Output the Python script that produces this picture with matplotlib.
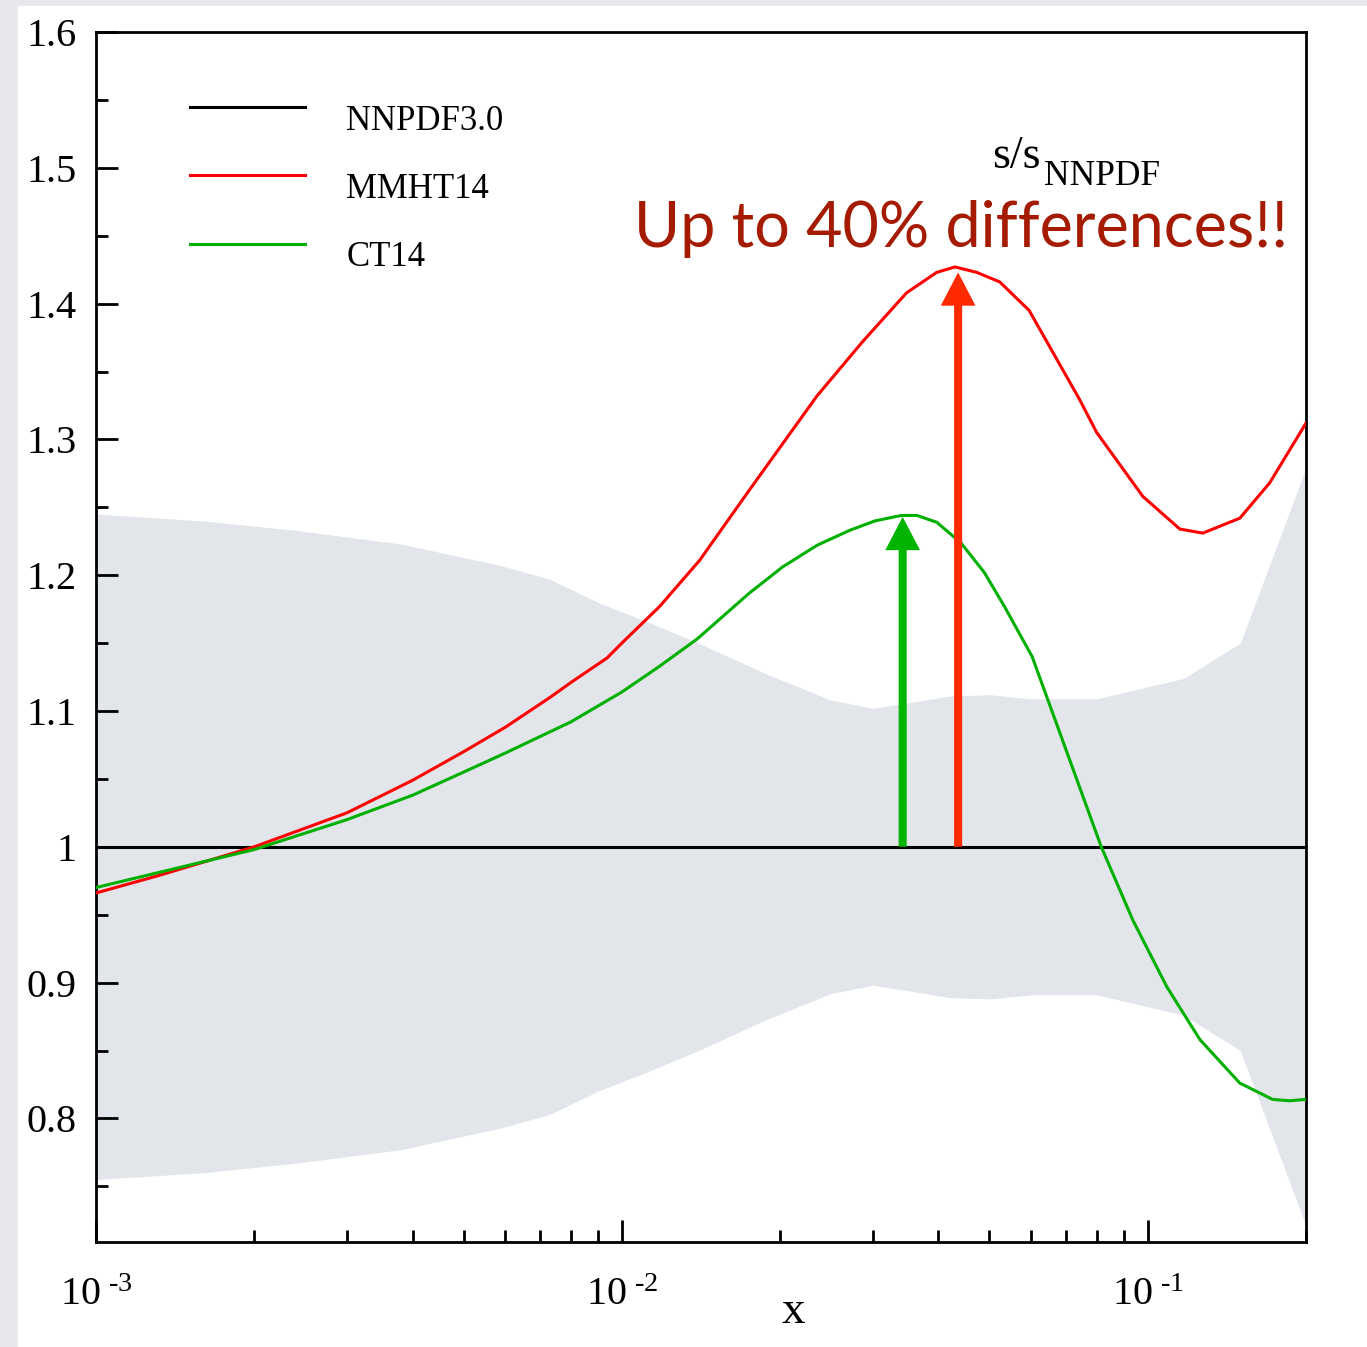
import matplotlib
matplotlib.use("Agg")
import matplotlib.pyplot as plt
from matplotlib.patches import Rectangle
from matplotlib.legend_handler import HandlerLine2D
from matplotlib.ticker import FixedLocator, FixedFormatter, LogLocator, NullFormatter
import numpy as np

# NNPDF3.0 uncertainty band (half width around 1)
band_x = [0.001, 0.0016, 0.0024, 0.0038, 0.0059, 0.0073, 0.009, 0.0113, 0.014, 0.0189,
          0.025, 0.03, 0.035, 0.042, 0.05, 0.06, 0.08, 0.117, 0.15, 0.2]
band_hw = [0.245, 0.240, 0.233, 0.223, 0.207, 0.197, 0.180, 0.165, 0.150, 0.127,
           0.108, 0.102, 0.106, 0.111, 0.112, 0.109, 0.109, 0.124, 0.150, 0.279]

mmht_x = [0.001, 0.00132, 0.002, 0.003, 0.004, 0.005, 0.006, 0.0073, 0.008, 0.00937,
          0.01, 0.0118, 0.01406, 0.0175, 0.0235, 0.0287, 0.0348, 0.0397, 0.043, 0.0473,
          0.0523, 0.0595, 0.0743, 0.08, 0.0979, 0.1151, 0.1273, 0.1497, 0.1706, 0.2]
mmht_y = [0.966, 0.979, 1.000, 1.025, 1.049, 1.070, 1.088, 1.110, 1.121, 1.139,
          1.150, 1.177, 1.211, 1.263, 1.332, 1.372, 1.408, 1.423, 1.427, 1.423,
          1.416, 1.395, 1.329, 1.305, 1.258, 1.234, 1.231, 1.242, 1.268, 1.312]

ct14_x = [0.001, 0.00145, 0.002, 0.003, 0.004, 0.005, 0.006, 0.008, 0.01,
          0.0118, 0.0139, 0.0175, 0.0202, 0.0235, 0.0271, 0.0303, 0.034, 0.0364, 0.0397, 0.0441,
          0.0489, 0.0534, 0.0603, 0.0816, 0.0937, 0.1087, 0.1257, 0.1497, 0.1728, 0.186, 0.2]
ct14_y = [0.970, 0.985, 0.998, 1.020, 1.038, 1.055, 1.069, 1.092, 1.114,
          1.133, 1.153, 1.187, 1.206, 1.222, 1.233, 1.240, 1.244, 1.244, 1.239, 1.224,
          1.202, 1.177, 1.140, 1.000, 0.946, 0.897, 0.858, 0.826, 0.814, 0.813, 0.814]

# arrows: x position, tip value
arrow_green = (0.0342, 1.243)
arrow_red = (0.0436, 1.423)

ytick_vals = [0.8, 0.9, 1.0, 1.1, 1.2, 1.3, 1.4, 1.5, 1.6]
ytick_labels = ["0.8", "0.9", "1", "1.1", "1.2", "1.3", "1.4", "1.5", "1.6"]
xtick_vals = [0.001, 0.01, 0.1]
xtick_labels = ["$\\mathregular{10^{\\;\u20103}}$", "$\\mathregular{10^{\\;\u20102}}$",
                "$\\mathregular{10^{\\;\u20101}}$"]

plt.rcParams["font.family"] = "Liberation Serif"
plt.rcParams["mathtext.fontset"] = "custom"
plt.rcParams["mathtext.rm"] = "Liberation Serif"


class RaisedLine(HandlerLine2D):
    # legend sample sits a bit above the middle of the label
    def create_artists(self, legend, orig_handle, xdescent, ydescent, width, height, fontsize, trans):
        arts = super().create_artists(legend, orig_handle, xdescent, ydescent, width, height, fontsize, trans)
        for a in arts:
            a.set_ydata(np.asarray(a.get_ydata()) + 0.29 * fontsize)
        return arts


W, H = 1367, 1347
fig = plt.figure(figsize=(W / 100, H / 100), dpi=100, facecolor="#e6e8ec")
fig.patches.append(Rectangle((18 / W, 0), 1 - 18 / W, 1 - 6 / H, transform=fig.transFigure,
                             facecolor="white", edgecolor="none", zorder=-10))

ax = fig.add_axes([96 / W, 1 - 1242 / H, 1210 / W, 1210 / H])
ax.set_facecolor("white")
ax.set_xscale("log")
ax.set_xlim(0.001, 0.2)
ax.set_ylim(0.709, 1.6)

bx = np.array(band_x)
bh = np.array(band_hw)
ax.fill_between(bx, 1 - bh, 1 + bh, color="#e2e5ea", lw=0, zorder=1)

ax.plot([0.001, 0.2], [1.0, 1.0], color="black", lw=2.2, zorder=3, label="NNPDF3.0")
ax.plot(mmht_x, mmht_y, color="#ff0000", lw=2.2, zorder=4, label="MMHT14")
ax.plot(ct14_x, ct14_y, color="#00b000", lw=2.2, zorder=4, label="CT14")

for (ax_x, tip), col in [(arrow_green, "#00b400"), (arrow_red, "#ff2a00")]:
    ax.annotate("", xy=(ax_x, tip), xytext=(ax_x, 1.0),
                arrowprops=dict(facecolor=col, edgecolor="none", width=5.8,
                                headwidth=25, headlength=24, shrink=0), zorder=5)

for s in ax.spines.values():
    s.set_linewidth(2)
    s.set_color("black")

ax.yaxis.set_major_locator(FixedLocator(ytick_vals))
ax.yaxis.set_major_formatter(FixedFormatter(ytick_labels))
ax.yaxis.set_minor_locator(FixedLocator([0.75, 0.85, 0.95, 1.05, 1.15, 1.25, 1.35, 1.45, 1.55]))
ax.xaxis.set_major_locator(FixedLocator(xtick_vals))
ax.xaxis.set_major_formatter(FixedFormatter(xtick_labels))
ax.xaxis.set_minor_locator(LogLocator(base=10, subs=np.arange(2, 10), numticks=20))
ax.xaxis.set_minor_formatter(NullFormatter())

ax.tick_params(which="both", direction="in", top=False, right=False, width=2, color="black")
ax.tick_params(which="major", length=16)
ax.tick_params(which="minor", length=8.5)
ax.tick_params(axis="y", which="major", labelsize=29, pad=14)
ax.tick_params(axis="x", which="major", labelsize=29, pad=25)

leg = ax.legend(loc="upper left", bbox_to_anchor=(0.0778, 0.940), frameon=False, fontsize=25,
                handlelength=3.3, handletextpad=1.2, labelspacing=1.01, borderpad=0,
                borderaxespad=0, handler_map={plt.Line2D: RaisedLine()})

fig.text(793 / W, 1 - 1312 / H, "x", fontsize=34, ha="center", va="center")
fig.text(992 / W, 1 - 168 / H, "s/s", fontsize=33, va="baseline")
fig.text(1044 / W, 1 - 185 / H, "NNPDF", fontsize=25.5, va="baseline")

t = fig.text(634 / W, 1 - 247 / H, "Up to 40% differences!!", fontsize=48,
             family="Lato", color="#a51b00", va="baseline")
fig.canvas.draw()
wpx = t.get_window_extent(fig.canvas.get_renderer()).width
t.set_fontsize(48 * 654 / wpx)

fig.savefig("out.png", dpi=100, facecolor=fig.get_facecolor())
